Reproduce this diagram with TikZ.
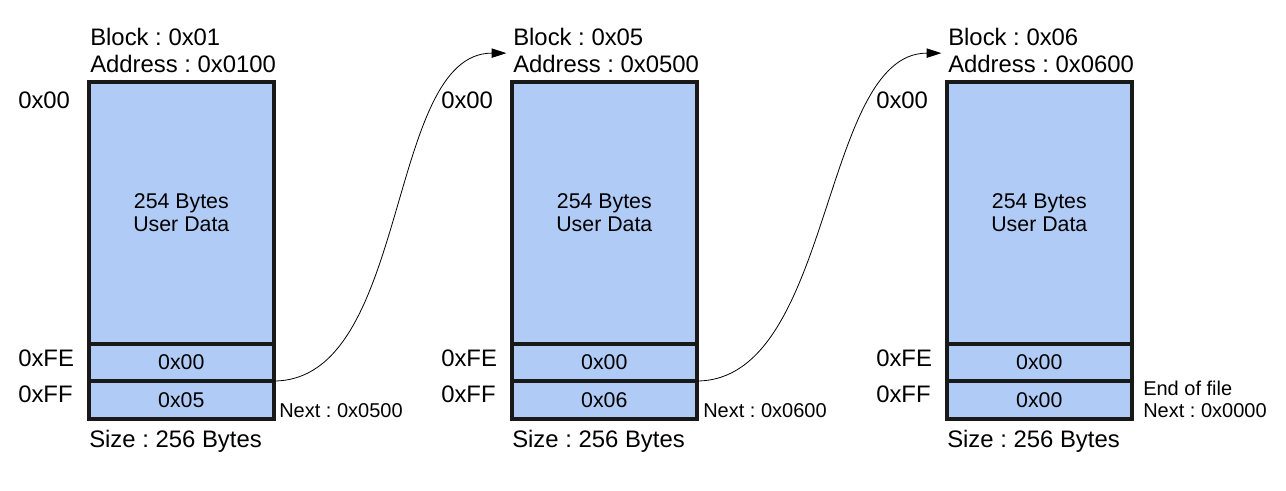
\documentclass[tikz,border=0pt]{standalone}
\usepackage{fontspec}
\setmainfont{Liberation Sans}
\usetikzlibrary{arrows.meta}
\definecolor{cellblue}{RGB}{176,203,245}
\frenchspacing

\begin{document}
\begin{tikzpicture}[x=0.75pt,y=0.75pt,yscale=-1,xscale=1,
  cellbox/.style={draw=black!90,fill=cellblue,line width=2.9pt,minimum width=138.5pt,
    inner sep=0pt,outer sep=0pt,align=center,font=\fontsize{16}{17.25}\selectfont},
  lbl/.style={inner sep=0pt,align=left,font=\fontsize{17.9}{20.25}\selectfont},
  note/.style={inner sep=0pt,align=left,font=\fontsize{15}{16.5}\selectfont},
  link/.style={-{Triangle[length=11pt,width=7pt]},line width=0.6pt}]

\useasboundingbox (0,0) rectangle (1286,491);

% three blocks of the chain
\foreach \b/\x/\blk/\val in {1/89/01/05, 2/512/05/06, 3/947/06/00} {
  \node (data\b) [cellbox,minimum height=196.5pt,anchor=north west] at (\x,82) {254 Bytes\\User Data};
  \node (fe\b) [cellbox,minimum height=27.75pt,anchor=north] at (data\b.south) {0x00};
  \node (ff\b) [cellbox,minimum height=28.5pt,anchor=north] at (fe\b.south) {0x\val};
  \node (hdr\b) [lbl,anchor=south west] at (\x+1,73) {Block : 0x\blk\\Address : 0x\blk00};
  \node (aoo\b) [lbl,anchor=west] at (\x-71,100) {0x00};
  \node (afe\b) [lbl,anchor=west] at (\x-71,358) {0xFE};
  \node (aff\b) [lbl,anchor=west] at (\x-71,394) {0xFF};
  \node (size\b) [lbl,anchor=west] at (\x,441) {Size : 256 Bytes};
}

\node (next1) [note,anchor=west] at (279,411) {Next : 0x0500};
\node (next2) [note,anchor=west] at (703,411) {Next : 0x0600};
\node (next3) [note,anchor=west] at (1143,399) {End of file\\Next : 0x0000};

% links to the next block
\draw [link] (fe1.south east) .. controls +(137,0) and +(-121,0) .. ([xshift=-5pt,yshift=2pt]hdr2.west);
\draw [link] (fe2.south east) .. controls +(137,0) and +(-121,0) .. ([xshift=-5pt,yshift=2pt]hdr3.west);

\end{tikzpicture}
\end{document}
